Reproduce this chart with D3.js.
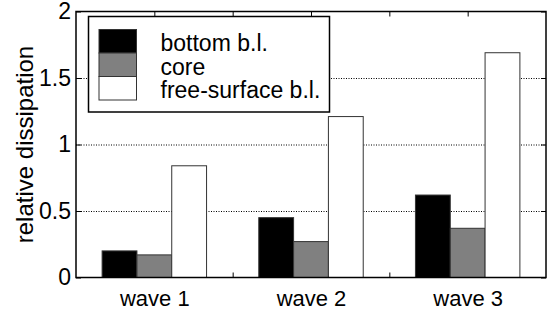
<!DOCTYPE html>
<html>
<head>
<meta charset="utf-8">
<script src="https://cdn.jsdelivr.net/npm/d3@7"></script>
<style>
  body { margin: 0; background: #fff; }
  svg { display: block; font-family: "Liberation Sans", Arial, Helvetica, sans-serif; }
</style>
</head>
<body>
<svg id="chart" width="555" height="311"></svg>
<script>
// values
const waves = ["wave 1", "wave 2", "wave 3"]
const seriesNames = ["bottom b.l.", "core", "free-surface b.l."]
const bottomBL = [0.20, 0.45, 0.62]
const core = [0.17, 0.27, 0.37]
const freeSurface = [0.84, 1.21, 1.69]
const seriesFill = ["#000000", "#808080", "#ffffff"]
const yTicks = [0, 0.5, 1, 1.5, 2]
const xTicks = [1, 1.5, 2, 2.5, 3]

const seriesValues = [bottomBL, core, freeSurface]
const margin = {top: 11.5, right: 9, bottom: 33.5, left: 76}
const W = 555, H = 311

let svg = d3.select("#chart")

let x = d3.scaleLinear().domain([0.5, 3.5]).range([margin.left, W - margin.right])
let y = d3.scaleLinear().domain([0, 2]).range([H - margin.bottom, margin.top])
// bars inside a group, in x units around the group centre
let sub = d3.scaleBand().domain(seriesNames).range([-1/3, 1/3])

// dotted grid
svg.append("g")
  .attr("transform", `translate(${margin.left},0)`)
  .call(d3.axisLeft(y).tickValues(yTicks.slice(1, -1)).tickSize(-(x.range()[1] - x.range()[0])).tickFormat(""))
  .call(g => g.select(".domain").remove())
  .selectAll(".tick line")
  .attr("stroke", "#000")
  .attr("stroke-width", 1)
  .attr("stroke-dasharray", "1,1.5")

// inward ticks on all four sides
function tickStyle(g) {
  g.select(".domain").remove()
  g.selectAll(".tick line").attr("stroke", "#000").attr("stroke-width", 1)
  g.selectAll(".tick text").attr("fill", "#000")
  g.attr("font-family", null)
}
svg.append("g")
  .attr("transform", `translate(${margin.left},0)`)
  .call(d3.axisLeft(y).tickValues(yTicks).tickSize(-5).tickPadding(5).tickFormat(d3.format("")))
  .call(tickStyle)
  .attr("font-size", 23)
svg.append("g")
  .attr("transform", `translate(${W - margin.right},0)`)
  .call(d3.axisRight(y).tickValues(yTicks).tickSize(-5).tickFormat(""))
  .call(tickStyle)
svg.append("g")
  .attr("transform", `translate(0,${margin.top})`)
  .call(d3.axisTop(x).tickValues(xTicks).tickSize(-5).tickFormat(""))
  .call(tickStyle)
svg.append("g")
  .attr("transform", `translate(0,${H - margin.bottom})`)
  .call(d3.axisBottom(x).tickValues(xTicks).tickSize(-5).tickPadding(13)
    .tickFormat(d => Number.isInteger(d) ? waves[d - 1] : ""))
  .call(tickStyle)
  .attr("font-size", 22)

// bars
let rows = []
waves.forEach((w, i) => seriesNames.forEach((s, j) => {
  rows.push({pos: i + 1, series: s, value: seriesValues[j][i], fill: seriesFill[j]})
}))

svg.append("g")
  .selectAll("rect")
  .data(rows).enter()
  .append("rect")
  .attr("x", d => x(d.pos + sub(d.series)))
  .attr("width", d => x(d.pos + sub(d.series) + sub.bandwidth()) - x(d.pos + sub(d.series)))
  .attr("y", d => y(d.value))
  .attr("height", d => y(0) - y(d.value))
  .attr("fill", d => d.fill)
  .attr("stroke", "#333")
  .attr("stroke-width", 1)

// axes box
svg.append("rect")
  .attr("x", x.range()[0])
  .attr("y", y.range()[1])
  .attr("width", x.range()[1] - x.range()[0])
  .attr("height", y.range()[0] - y.range()[1])
  .attr("fill", "none")
  .attr("stroke", "#000")
  .attr("stroke-width", 1.5)

// y label
svg.append("text")
  .attr("transform", "rotate(-90)")
  .attr("x", -(y.range()[0] + y.range()[1]) / 2)
  .attr("y", 33)
  .attr("text-anchor", "middle")
  .attr("font-size", 24)
  .text("relative dissipation")

// legend
let legend = svg.append("g")
legend.append("rect")
  .attr("x", 88.5).attr("y", 16.5)
  .attr("width", 241).attr("height", 95.5)
  .attr("fill", "#fff")
  .attr("stroke", "#000")
  .attr("stroke-width", 1.5)

let items = legend.selectAll("g.item")
  .data(seriesNames).enter()
  .append("g")
  .attr("transform", (d, i) => `translate(0,${29.5 + i * 23.5})`)
items.append("rect")
  .attr("x", 99).attr("y", 0)
  .attr("width", 37.5).attr("height", 23.5)
  .attr("fill", (d, i) => seriesFill[i])
  .attr("stroke", "#333")
  .attr("stroke-width", 1)
items.append("text")
  .attr("x", 160.5)
  .attr("y", 21.5)
  .attr("font-size", 23)
  .text(d => d)
</script>
</body>
</html>
